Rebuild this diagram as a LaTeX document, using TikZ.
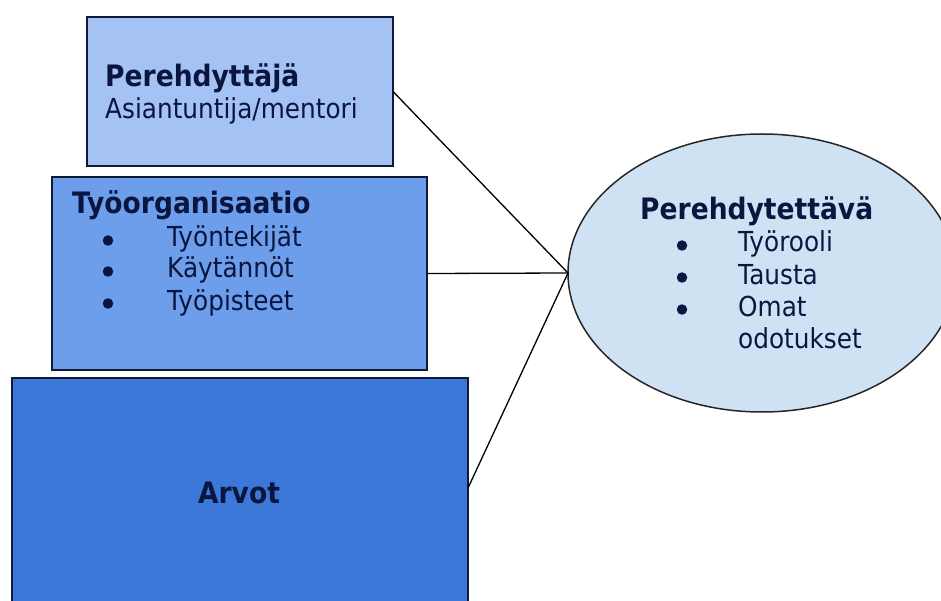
\documentclass[tikz,border=0pt]{standalone}
\usepackage{fontspec}
\setmainfont{DejaVu Sans}[FakeStretch=0.9]
\usetikzlibrary{shapes.geometric}
\definecolor{boxA}{HTML}{A4C2F4}
\definecolor{boxB}{HTML}{6D9EEB}
\definecolor{boxC}{HTML}{3C78D8}
\definecolor{ovalfill}{HTML}{CFE2F3}
\definecolor{edge}{HTML}{0D1A38}
\definecolor{ink}{HTML}{0B1640}
\tikzset{
  panel/.style={draw=edge, line width=1.8pt, rectangle, inner sep=0pt, outer sep=0pt},
  oval/.style={draw=black!85, line width=1.5pt, ellipse, fill=ovalfill, inner sep=0pt, outer sep=0pt,
               minimum width=388pt, minimum height=278pt},
  head/.style={anchor=base west, inner sep=0pt, text=ink, font=\fontsize{29.5}{31}\selectfont\bfseries},
  item/.style={anchor=base west, inner sep=0pt, text=ink, font=\fontsize{27.5}{31}\selectfont},
  dot/.style={circle, fill=ink, inner sep=0pt, minimum size=10.5pt},
  link/.style={draw=black, line width=1.3pt}
}
\begin{document}
\begin{tikzpicture}[x=1pt, y=-1pt]
\useasboundingbox (0,0) rectangle (941,601);
\clip (0,0) rectangle (941,601);
\fill[white] (0,0) rectangle (941,601);

% three stacked boxes; the lowest one runs past the bottom edge
\node[panel, fill=boxA, minimum width=306pt, minimum height=149pt] (b1) at (240,91.5) {};
\node[panel, fill=boxB, minimum width=375pt, minimum height=193pt] (b2) at (239.5,273.5) {};
\node[panel, fill=boxC, minimum width=456pt, minimum height=232pt] (b3) at (240,494) {};

% the person being introduced
\node[oval] (e) at (762,273) {};

% connectors
\draw[link] (b1.east) -- (e.west);
\draw[link] (b2.east) -- (e.west);
\draw[link] ([yshift=6pt]b3.east) -- (e.west);

% texts of the first box
\node[head] (t1) at (105,87) {Perehdyttäjä};
\node[item] (t1a) at (105,119) {Asiantuntija/mentori};

% texts of the second box
\node[head] (t2) at (72,214) {Työorganisaatio};
\node[dot] (d2a) at (108,240.5) {};
\node[item] (t2a) at (167,247) {Työntekijät};
\node[dot] (d2b) at (108,271.5) {};
\node[item] (t2b) at (167,278) {Käytännöt};
\node[dot] (d2c) at (108,303.5) {};
\node[item] (t2c) at (167,310) {Työpisteet};

% text of the third box
\node[anchor=base, inner sep=0pt, text=ink, font=\fontsize{29.5}{31}\selectfont\bfseries] (t3) at (239,503) {Arvot};

% texts of the oval
\node[head] (t4) at (640,220) {Perehdytettävä};
\node[dot] (d4a) at (682,245.5) {};
\node[item] (t4a) at (738,252) {Työrooli};
\node[dot] (d4b) at (682,277.5) {};
\node[item] (t4b) at (738,284) {Tausta};
\node[dot] (d4c) at (682,309.5) {};
\node[item] (t4c) at (738,316) {Omat};
\node[item] (t4d) at (738,348) {odotukset};
\end{tikzpicture}
\end{document}
